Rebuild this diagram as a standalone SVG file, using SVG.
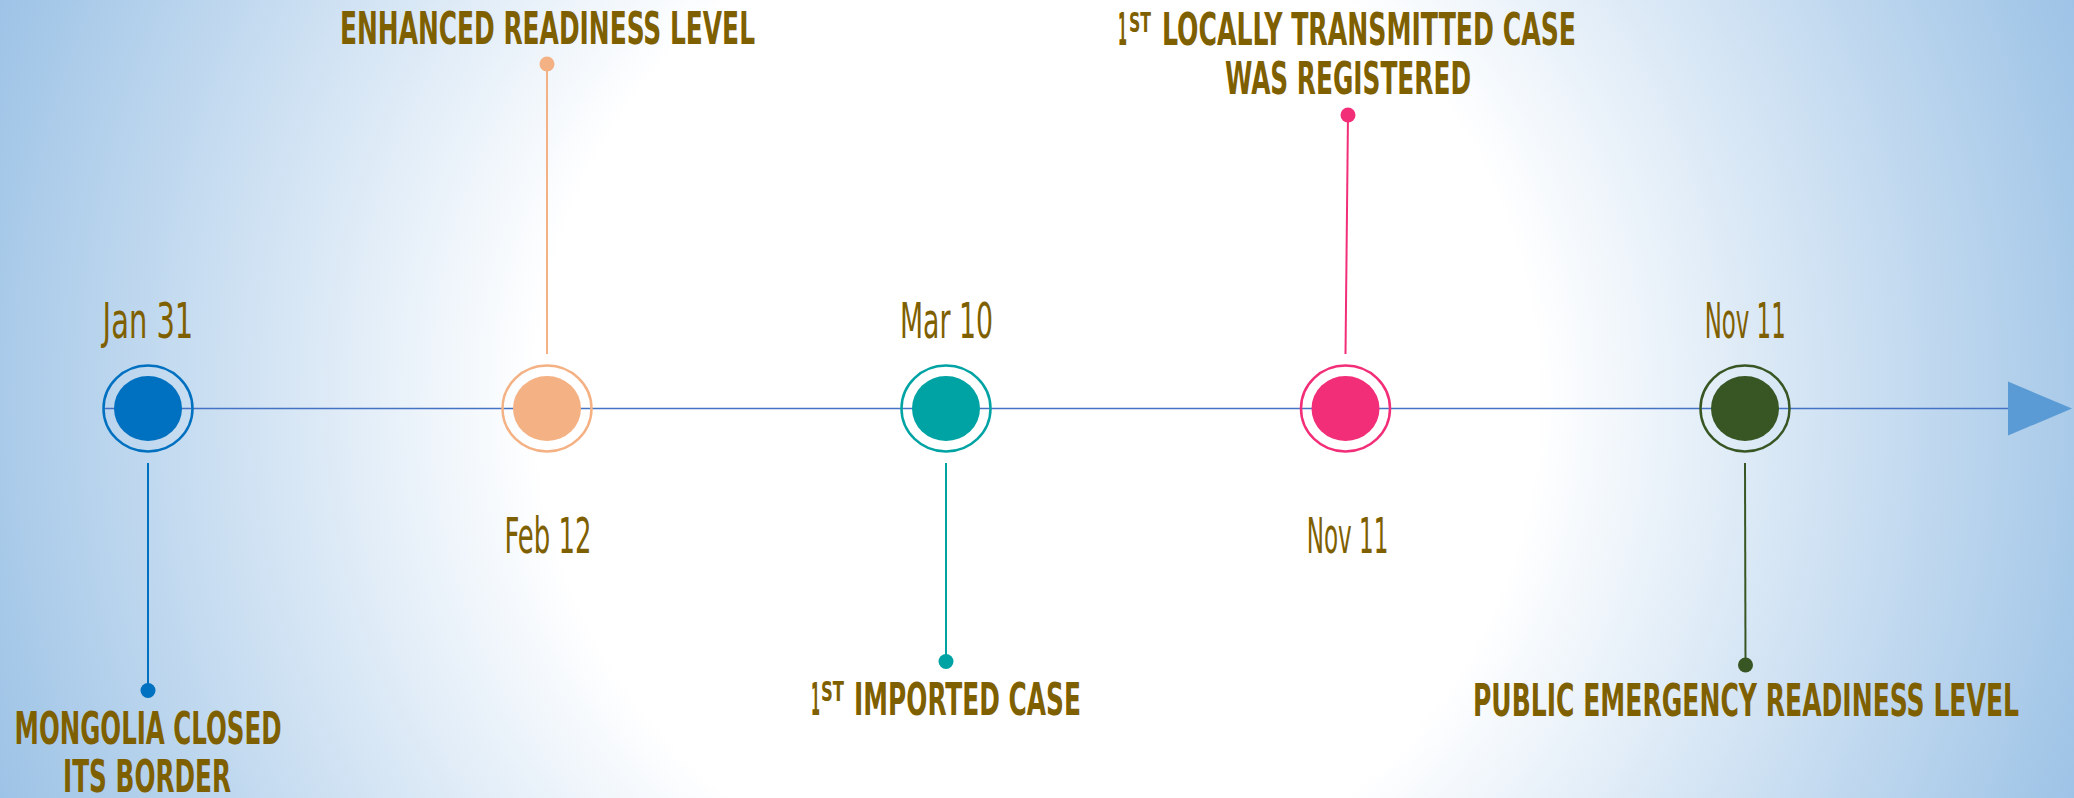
<svg xmlns="http://www.w3.org/2000/svg" width="2074" height="798" viewBox="0 0 2074 798">
  <defs>
    <radialGradient id="bg" gradientUnits="userSpaceOnUse" cx="1037" cy="399" r="1111">
      <stop offset="0" stop-color="#FFFFFF"/>
      <stop offset="0.45" stop-color="#FFFFFF"/>
      <stop offset="1" stop-color="#9DC3E6"/>
    </radialGradient>
    <style>
      .date { font-family: "Liberation Sans Narrow", "DejaVu Sans Condensed", "Liberation Sans", sans-serif; font-size: 50px; fill: #7F6000; }
      .lbl { font-family: "Liberation Sans Narrow", "DejaVu Sans Condensed", "Liberation Sans", sans-serif; font-size: 45px; font-weight: bold; fill: #7F6000; }
      .sup { font-size: 26px; }
      .ring { fill: none; stroke-width: 2.5; }
      .stem { stroke-width: 2; fill: none; }
    </style>
  </defs>

  <rect x="0" y="0" width="2074" height="798" fill="url(#bg)"/>

  <g id="connectors">
    <line x1="103" y1="408.5" x2="2010" y2="408.5" stroke="#4472C4" stroke-width="1.6"/>
    <polygon points="2008,381.5 2072,408.5 2008,435.5" fill="#5B9BD5"/>
    <line class="stem" x1="148" y1="463" x2="148" y2="690" stroke="#0070C0"/>
    <circle cx="148" cy="690.5" r="7.5" fill="#0070C0"/>
    <line class="stem" x1="547" y1="354" x2="547" y2="64" stroke="#F4B183"/>
    <circle cx="547" cy="64" r="7.5" fill="#F4B183"/>
    <line class="stem" x1="946" y1="463" x2="946" y2="661" stroke="#00A3A4"/>
    <circle cx="946" cy="661.5" r="7.5" fill="#00A3A4"/>
    <line class="stem" x1="1345.5" y1="354" x2="1348" y2="115" stroke="#F32E78"/>
    <circle cx="1348" cy="115" r="7.5" fill="#F32E78"/>
    <line class="stem" x1="1745" y1="463" x2="1745.5" y2="665" stroke="#375623"/>
    <circle cx="1745.5" cy="665" r="7.5" fill="#375623"/>
  </g>

  <g id="node-jan31">
    <ellipse class="ring" cx="148" cy="408.5" rx="44.5" ry="43" stroke="#0070C0"/>
    <ellipse cx="148" cy="408.5" rx="34" ry="32.5" fill="#0070C0"/>
    <text class="date" x="102.6" y="338" textLength="90.7" lengthAdjust="spacingAndGlyphs">Jan 31</text>
    <text class="lbl" x="14.5" y="744" textLength="267" lengthAdjust="spacingAndGlyphs">MONGOLIA CLOSED</text>
    <text class="lbl" x="63" y="792" textLength="168" lengthAdjust="spacingAndGlyphs">ITS BORDER</text>
  </g>

  <g id="node-feb12">
    <ellipse class="ring" cx="547" cy="408.5" rx="44.5" ry="43" stroke="#F4B183"/>
    <ellipse cx="547" cy="408.5" rx="34" ry="32.5" fill="#F4B183"/>
    <text class="date" x="504.4" y="553" textLength="87" lengthAdjust="spacingAndGlyphs">Feb 12</text>
    <text class="lbl" x="340" y="44" textLength="415" lengthAdjust="spacingAndGlyphs">ENHANCED READINESS LEVEL</text>
  </g>

  <g id="node-mar10">
    <ellipse class="ring" cx="946" cy="408.5" rx="44.5" ry="43" stroke="#00A3A4"/>
    <ellipse cx="946" cy="408.5" rx="34" ry="32.5" fill="#00A3A4"/>
    <text class="date" x="900" y="338" textLength="93" lengthAdjust="spacingAndGlyphs">Mar 10</text>
    <text class="lbl" y="715"><tspan x="811" textLength="9" lengthAdjust="spacingAndGlyphs">1</tspan><tspan class="sup" x="821" y="701" textLength="23" lengthAdjust="spacingAndGlyphs">ST</tspan><tspan x="854" y="715" textLength="227" lengthAdjust="spacingAndGlyphs">IMPORTED CASE</tspan></text>
  </g>

  <g id="node-nov11-local">
    <ellipse class="ring" cx="1345.5" cy="408.5" rx="44.5" ry="43" stroke="#F32E78"/>
    <ellipse cx="1345.5" cy="408.5" rx="34" ry="32.5" fill="#F32E78"/>
    <text class="date" x="1306.7" y="553" textLength="81.7" lengthAdjust="spacingAndGlyphs">Nov 11</text>
    <text class="lbl" y="45"><tspan x="1118" textLength="9" lengthAdjust="spacingAndGlyphs">1</tspan><tspan class="sup" x="1129" y="31.5" textLength="22" lengthAdjust="spacingAndGlyphs">ST</tspan><tspan x="1162" y="45" textLength="414" lengthAdjust="spacingAndGlyphs">LOCALLY TRANSMITTED CASE</tspan></text>
    <text class="lbl" x="1225" y="94" textLength="246" lengthAdjust="spacingAndGlyphs">WAS REGISTERED</text>
  </g>

  <g id="node-nov11-public">
    <ellipse class="ring" cx="1745" cy="408.5" rx="44.5" ry="43" stroke="#375623"/>
    <ellipse cx="1745" cy="408.5" rx="34" ry="32.5" fill="#375623"/>
    <text class="date" x="1704.7" y="338" textLength="81" lengthAdjust="spacingAndGlyphs">Nov 11</text>
    <text class="lbl" x="1473" y="716" textLength="546" lengthAdjust="spacingAndGlyphs">PUBLIC EMERGENCY READINESS LEVEL</text>
  </g>
</svg>
